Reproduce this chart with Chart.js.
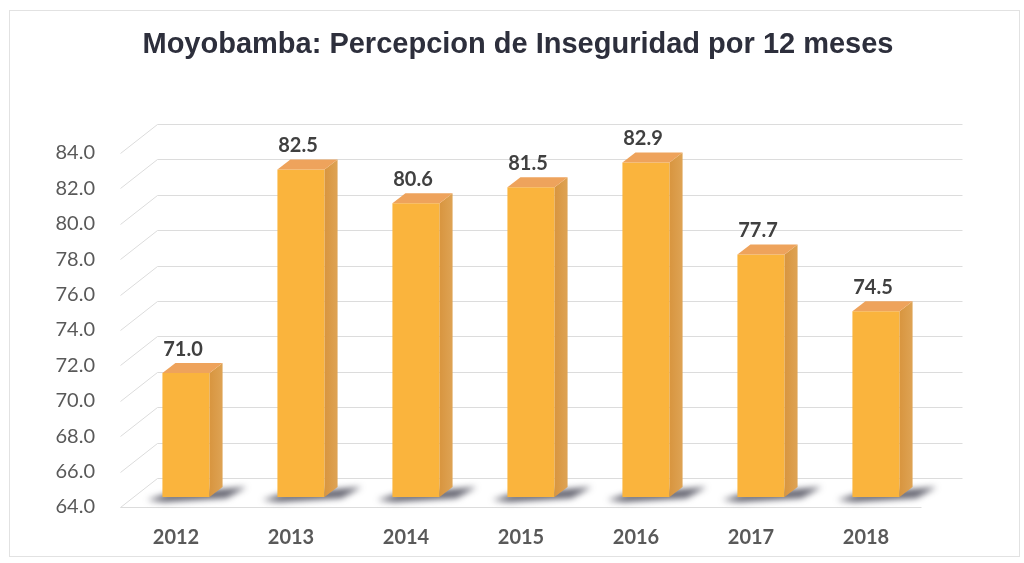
<!DOCTYPE html>
<html>
<head>
<meta charset="utf-8">
<script src="https://cdn.jsdelivr.net/npm/chart.js@4"></script>
<style>
  html, body { margin: 0; padding: 0; background: #fff; }
  #wrap { width: 1024px; height: 563px; position: relative; }
</style>
</head>
<body>
<div id="wrap"><canvas id="chart"></canvas></div>
<script>
const years = ["2012", "2013", "2014", "2015", "2016", "2017", "2018"];
const percepcion = [71.0, 82.5, 80.6, 81.5, 82.9, 77.7, 74.5];
const yMin = 64;
const yMax = 84;
const yStep = 2;

const DX = 13;   // depth of the 3d box, x
const DY = 10;   // depth of the 3d box, y

// bar geometry; the base is cut at the floor (axis starts at 64)
function barBox(chart, bar) {
  const p = bar.getProps(["x", "y", "width"], true);
  const b = chart.scales.y.getPixelForValue(yMin);
  return { l: p.x - p.width / 2, r: p.x + p.width / 2, top: p.y, b: b, x: p.x };
}

// floor, back wall gridlines, shadows, 3d faces and value labels
const bars3d = {
  id: "bars3d",
  beforeDraw(chart) {
    const ctx = chart.ctx;
    ctx.save();
    ctx.strokeStyle = "#e2e2e2";
    ctx.lineWidth = 1;
    ctx.strokeRect(9.5, 10.5, 1010, 546);
    ctx.restore();
  },
  beforeDatasetsDraw(chart) {
    const ctx = chart.ctx;
    const y = chart.scales.y;
    const area = chart.chartArea;
    const x0 = area.left - 8;
    const x1 = area.left + 29;
    const x2 = area.right + 29;
    ctx.save();
    ctx.strokeStyle = "#dcdcdc";
    ctx.lineWidth = 1;
    y.ticks.forEach(t => {
      const yb = Math.round(y.getPixelForValue(t.value)) + 0.5;
      ctx.beginPath();
      ctx.moveTo(x0, yb + 10);
      ctx.lineTo(x1, yb - 19);
      ctx.lineTo(x2, yb - 19);
      ctx.stroke();
    });
    // front edge of the floor
    const yf = Math.round(y.getPixelForValue(yMin)) + 10.5;
    ctx.beginPath();
    ctx.moveTo(x0, yf);
    ctx.lineTo(area.right - 12, yf);
    ctx.stroke();

    // shadows on the floor
    const meta = chart.getDatasetMeta(0);
    ctx.filter = "blur(3px)";
    ctx.fillStyle = "rgba(60,60,75,0.8)";
    meta.data.forEach(bar => {
      const { l, r, b } = barBox(chart, bar);
      ctx.beginPath();
      ctx.moveTo(l - 15, b + 3);
      ctx.lineTo(l + 4, b - 3);
      ctx.lineTo(r + DX + 24, b - 10);
      ctx.lineTo(r + DX + 4, b + 1);
      ctx.lineTo(l + 2, b + 5);
      ctx.closePath();
      ctx.fill();
    });
    ctx.restore();
  },
  afterDatasetsDraw(chart) {
    const ctx = chart.ctx;
    const meta = chart.getDatasetMeta(0);
    ctx.save();
    meta.data.forEach((bar, i) => {
      const { l, r, top, b, x } = barBox(chart, bar);
      // side face
      const side = ctx.createLinearGradient(r, 0, r + DX, 0);
      side.addColorStop(0, "#d8953f");
      side.addColorStop(1, "#dea354");
      ctx.fillStyle = side;
      ctx.beginPath();
      ctx.moveTo(r, top);
      ctx.lineTo(r + DX, top - DY);
      ctx.lineTo(r + DX, b - DY);
      ctx.lineTo(r, b);
      ctx.closePath();
      ctx.fill();
      // top face
      ctx.fillStyle = "#eea35c";
      ctx.beginPath();
      ctx.moveTo(l, top);
      ctx.lineTo(r, top);
      ctx.lineTo(r + DX, top - DY);
      ctx.lineTo(l + DX, top - DY);
      ctx.closePath();
      ctx.fill();
      // value label
      ctx.fillStyle = "#404040";
      ctx.font = "bold 20px Lato";
      ctx.textAlign = "center";
      ctx.textBaseline = "middle";
      ctx.fillText(percepcion[i].toFixed(1), x - 3, top - 24);
    });
    ctx.restore();
  }
};

const ctx = document.getElementById("chart").getContext("2d");

new Chart(ctx, {
  type: "bar",
  data: {
    labels: years,
    datasets: [{
      label: "Percepcion de Inseguridad",
      data: percepcion,
      backgroundColor: "#fab43d",
      borderWidth: 0,
      barPercentage: 0.41,
      categoryPercentage: 1
    }]
  },
  options: {
    responsive: true,
    maintainAspectRatio: false,
    animation: false,
    layout: {
      padding: { left: 12, right: 0, top: 0, bottom: 0 }
    },
    plugins: {
      legend: { display: false },
      tooltip: { enabled: false },
      title: {
        display: true,
        text: "Moyobamba: Percepcion de Inseguridad por 12 meses",
        color: "#2d2f3c",
        font: { family: "Liberation Sans", size: 29, weight: "bold" },
        padding: { top: 27.6, bottom: 80.6 }
      }
    },
    scales: {
      x: {
        grid: { display: false, drawTicks: false },
        border: { display: false },
        ticks: {
          color: "#595959",
          font: { family: "Lato", size: 20, weight: "bold" },
          padding: 29,
          labelOffset: -10,
          maxRotation: 0
        },
        afterFit(scale) {
          scale.height = 66;
        }
      },
      y: {
        min: yMin,
        max: yMax,
        grid: { display: false, drawTicks: false },
        border: { display: false },
        ticks: {
          stepSize: yStep,
          color: "#595959",
          font: { family: "Lato", size: 20 },
          padding: 33.5,
          labelOffset: 10,
          callback: v => v.toFixed(1)
        },
        afterFit(scale) {
          scale.width = 116.5;
        }
      },
      // empty axis on the right, keeps the room right of the plot
      yRight: {
        position: "right",
        grid: { display: false, drawTicks: false },
        border: { display: false },
        ticks: { display: false },
        afterFit(scale) {
          scale.width = 90.5;
        }
      }
    }
  },
  plugins: [bars3d]
});
</script>
</body>
</html>
